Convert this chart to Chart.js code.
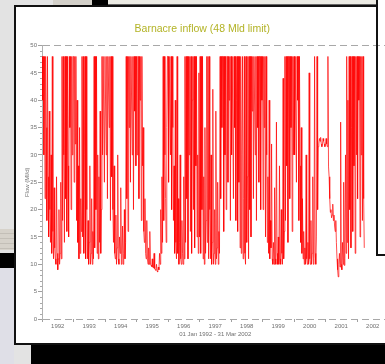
<!DOCTYPE html>
<html>
<head>
<meta charset="utf-8">
<script src="https://cdn.jsdelivr.net/npm/chart.js@4"></script>
<style>
  body { margin: 0; width: 385px; height: 364px; overflow: hidden; background: #e3e3e3; position: relative; font-family: "Liberation Sans", Arial, sans-serif; }
  .blk { position: absolute; }
  #win { position: absolute; left: 14px; top: 5px; width: 380px; height: 336px; background: #fff;
         border-left: 2px solid #111; border-top: 2px solid #111; border-bottom: 2px solid #111; }
  #holder { position: absolute; left: 16px; top: 7px; width: 380px; height: 337px; }
</style>
</head>
<body>
<div class="blk" style="left:53px;top:0;width:39px;height:5px;background:#d3d0c9"></div>
<div class="blk" style="left:92px;top:0;width:16px;height:5px;background:#000"></div>
<div class="blk" style="left:108px;top:0;width:269px;height:4px;background:#ecebe4;border-bottom:1px solid #666"></div>
<div class="blk" style="left:0;top:229px;width:14px;height:21px;background:repeating-linear-gradient(#d6d2ca 0 4px,#c3bfb7 4px 5px)"></div>
<div class="blk" style="left:0;top:253px;width:14px;height:15px;background:#000"></div>
<div class="blk" style="left:0;top:268px;width:14px;height:96px;background:#dfdfe7"></div>
<div id="win"></div>
<div class="blk" style="left:31px;top:345px;width:354px;height:19px;background:#000"></div>
<div id="holder"><canvas id="flowChart" width="380" height="337"></canvas></div>
<div class="blk" style="left:378px;top:0;width:7px;height:7px;background:#fff"></div>
<div class="blk" style="left:376px;top:0;width:2px;height:256px;background:#111"></div>
<div class="blk" style="left:376px;top:254px;width:9px;height:2px;background:#111"></div>
<script>
// weekly readings (Ml/d), capped at 48
const flow1992 = [48, 40, 48, 30, 48, 22, 48, 35, 18, 48, 26, 15, 38, 20,
  14, 30, 12, 48, 16, 11, 24, 13,
  11, 10, 26, 12, 9, 11, 20, 10, 12, 25, 11,
  48, 18, 48, 30, 14, 48, 22, 48, 16, 48, 28,
  15, 48, 35, 48, 20, 48, 30, 48];
const flow1993 = [48, 25, 48, 32, 48, 18, 40,
  14, 28, 11, 35, 12, 22, 16,
  48, 15, 48, 12, 30, 48, 11, 48, 20,
  11, 18, 10, 14, 28, 10, 12, 22, 10, 16, 11,
  48, 13, 48, 20, 48, 12,
  30, 11, 26, 14, 38, 12, 20,
  48, 30, 48, 48, 25];
const flow1994 = [48, 48, 30, 48, 22, 48, 48, 35, 48, 18, 48, 26, 48, 20,
  14, 28, 12, 11, 19, 10, 13, 30, 11, 10, 15, 12, 24, 10, 11, 17, 10, 12, 20, 11, 14,
  48, 22, 48, 16, 48, 35, 48, 25, 48, 48, 30, 48, 20, 48, 38, 48, 28];
const flow1995 = [48, 30, 48, 48, 22, 48, 40, 48, 18, 48, 28, 35, 16,
  14, 22, 12, 11, 18, 11, 10, 13, 10, 16, 10, 9.8,
  9.6, 11, 9.5, 9.3, 12, 9.2, 9, 8.9, 10, 8.7, 8.6, 9.5, 9, 12, 10,
  20, 12, 26, 14, 48, 18, 48, 30, 22, 14, 35, 48];
const flow1996 = [48, 25, 48, 48, 30, 48, 20, 48, 35,
  18, 28, 12, 40, 14, 11, 48, 12,
  22, 10, 14, 30, 11, 10, 18, 12, 10, 26, 11,
  48, 14, 48, 22, 48, 11, 48, 30, 48, 16, 48, 12, 40, 48, 20, 48, 13, 48, 28, 48, 15,
  30, 12, 45];
const flow1997 = [15, 48, 12, 48, 20, 48, 11,
  26, 10, 35, 12, 18,
  48, 14, 48, 11, 48, 20,
  11, 30, 10, 14, 42, 10, 12, 20, 10, 38, 11, 13, 25, 10, 16, 12,
  48, 22, 48, 35, 48, 48, 16, 48, 30, 48, 20, 48, 48, 25, 48, 40, 48, 18];
const flow1998 = [48, 30, 48, 48, 22, 48, 35, 48, 18, 40,
  48, 16, 48, 25, 48, 13, 48, 12, 30, 48, 11, 22, 48, 12, 10, 48, 14, 26, 48, 11,
  48, 20, 48, 15, 48, 38, 48, 22, 48, 48, 30, 48, 18, 48, 35, 48, 25, 48, 48, 20, 48, 40];
const flow1999 = [48, 20, 48, 35, 48, 15, 48, 30,
  14, 26, 12, 40, 11, 18, 13, 32, 11,
  10, 14, 10, 24, 11, 10, 36, 12, 10, 15, 10, 28, 11, 10, 20, 12, 10, 44, 11, 16,
  48, 18, 48, 28, 48, 14, 48, 48, 22, 48, 35, 48, 16, 48, 30];
const flow2000 = [48, 30, 48, 48, 25, 48, 40, 48, 18, 48, 28,
  14, 35, 12, 22, 11, 16,
  10, 13, 10, 30, 11, 10, 14, 10, 45, 11, 10, 18, 10, 12, 26, 10, 11, 48, 12, 10, 15,
  48, 20, 31.5, 32, 33, 32.5, 33.2, 32, 31.5, 32, 33, 32.5, 32, 31.5];
const flow2001 = [32, 33, 32, 31.5,
  48, 27.8, 26,
  22, 19.5, 20, 18.5, 19, 21, 18, 19, 17, 16, 18, 14,
  11, 9, 7.7, 10, 12, 9.5, 36, 10, 9, 14, 10, 25, 9.8,
  11, 30, 12, 48, 14, 40, 11, 48, 20, 48, 13, 35, 48, 16, 48, 28, 48, 12, 48, 30];
const flow2002 = [48, 22, 48, 40, 48, 15, 48, 30, 48, 18, 48, 22, 13];

const years = [1992, 1993, 1994, 1995, 1996, 1997, 1998, 1999, 2000, 2001, 2002];
const yearFlows = [flow1992, flow1993, flow1994, flow1995, flow1996, flow1997,
  flow1998, flow1999, flow2000, flow2001, flow2002];
const yTicks = [0, 5, 10, 15, 20, 25, 30, 35, 40, 45, 50];

const points = [];
years.forEach((yr, k) => {
  yearFlows[k].forEach((v, i) => points.push({ x: yr + i / 52, y: v }));
});

// tick at every year start, label at every mid year
const xTicks = [];
for (let yr = 1992; yr <= 2003; yr++) {
  xTicks.push(yr);
  if (yr < 2003) xTicks.push(yr + 0.5);
}

const small = { family: "'Liberation Sans', Arial, sans-serif", size: 6 };

const minorTicks = {
  id: "minorTicks",
  afterDraw(chart) {
    const y = chart.scales.y;
    const ctx = chart.ctx;
    ctx.save();
    ctx.strokeStyle = "#a8a8a8";
    ctx.lineWidth = 1;
    for (let v = 0; v <= 50; v++) {
      if (v % 5 === 0) continue;
      const py = Math.round(y.getPixelForValue(v)) + 0.5;
      ctx.beginPath();
      ctx.moveTo(y.right - 2, py);
      ctx.lineTo(y.right, py);
      ctx.stroke();
    }
    ctx.restore();
  }
};

new Chart(document.getElementById("flowChart"), {
  type: "line",
  data: {
    datasets: [{
      data: points,
      borderColor: "#ff0000",
      borderWidth: 0.7,
      pointRadius: 0,
      tension: 0,
      fill: false
    }]
  },
  options: {
    responsive: false,
    animation: false,
    parsing: false,
    layout: { padding: { left: 0, right: 7.5, top: 0, bottom: 0 } },
    plugins: {
      legend: { display: false },
      tooltip: { enabled: false },
      title: {
        display: true,
        text: "Barnacre inflow (48 Mld limit)",
        color: "#b3b326",
        font: { family: "'Liberation Sans', Arial, sans-serif", size: 10.5, weight: "normal" },
        padding: { top: 16.2, bottom: 9.7 }
      }
    },
    scales: {
      x: {
        type: "linear",
        min: 1992,
        max: 2003,
        afterBuildTicks: (scale) => { scale.ticks = xTicks.map(v => ({ value: v })); },
        afterFit: (scale) => { scale.height = 25; },
        border: { display: false },
        grid: {
          drawOnChartArea: false,
          tickLength: 3,
          tickColor: (c) => Number.isInteger(c.tick && c.tick.value) ? "#a0a0a0" : "rgba(0,0,0,0)"
        },
        ticks: {
          autoSkip: false,
          maxRotation: 0,
          padding: 1,
          color: "#707070",
          font: small,
          callback: (v) => Number.isInteger(v) ? "" : String(years[Math.floor(v) - 1992])
        },
        title: {
          display: true,
          text: "01 Jan 1992 - 31 Mar 2002",
          color: "#707070",
          font: small,
          padding: { top: 1, bottom: 6.4 }
        }
      },
      y: {
        min: 0,
        max: 50,
        afterBuildTicks: (scale) => { scale.ticks = yTicks.map(v => ({ value: v })); },
        afterFit: (scale) => { scale.width = 26; },
        border: { display: true, color: "#b0b0b0", width: 1, dash: [7, 4] },
        grid: {
          color: (c) => (c.tick && (c.tick.value === 0 || c.tick.value === 50)) ? "#a8a8a8" : "rgba(0,0,0,0)",
          tickLength: 4,
          tickColor: "#a0a0a0"
        },
        ticks: { padding: 1, color: "#707070", font: small },
        title: {
          display: true,
          text: "Flow (Ml/d)",
          color: "#707070",
          font: small,
          padding: { top: 8, bottom: 0 }
        }
      }
    }
  },
  plugins: [minorTicks]
});
</script>
</body>
</html>
